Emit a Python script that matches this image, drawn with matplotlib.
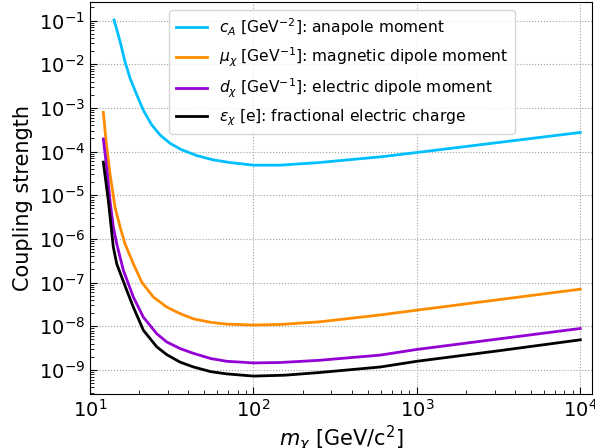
import numpy as np
import matplotlib
matplotlib.use('Agg')
from matplotlib import pyplot as plt

# dark matter mass in GeV/c^2 and coupling limits
mass_anapole = [14.03, 15.28, 16.37, 17.58, 19.32, 21.18, 23.88, 26.85, 30.9, 36.4, 44.98, 56.9, 71.9,
                100, 145.6, 251, 597, 1000, 3162, 10000]
c_anapole = [0.1035, 0.0331, 0.01148, 4.79e-3, 2.0e-3, 8.91e-4, 4.07e-4, 2.40e-4, 1.55e-4, 1.10e-4,
             8.13e-5, 6.46e-5, 5.62e-5, 4.90e-5, 4.90e-5, 5.62e-5, 7.59e-5, 9.55e-5, 1.62e-4, 2.75e-4]

mass_mdm = [12.06, 12.53, 13.25, 14.22, 15.28, 16.37, 18.41, 20.75, 24.4, 29.5, 35.6, 42.95, 55, 68.7,
            100, 145, 251, 597, 1000, 3162, 10000]
mu_chi = [7.94e-4, 1.78e-4, 3.09e-5, 5.37e-6, 1.86e-6, 7.76e-7, 2.69e-7, 1.02e-7, 4.68e-8, 2.75e-8,
          1.95e-8, 1.48e-8, 1.23e-8, 1.12e-8, 1.07e-8, 1.10e-8, 1.26e-8, 1.82e-8, 2.34e-8, 4.07e-8, 7.08e-8]

mass_edm = [12.06, 12.65, 13.25, 13.89, 14.57, 16.0, 18.41, 21.2, 25.6, 29.5, 35.6, 42.95, 55, 68.7,
            100, 145, 251, 597, 1000, 3162, 10000]
d_chi = [1.95e-4, 4.37e-5, 7.59e-6, 1.86e-6, 7.76e-7, 1.91e-7, 4.68e-8, 1.62e-8, 6.76e-9, 4.37e-9, 3.09e-9,
         2.40e-9, 1.82e-9, 1.58e-9, 1.45e-9, 1.48e-9, 1.66e-9, 2.19e-9, 2.95e-9, 5.13e-9, 8.91e-9]

mass_charge = [12.06, 12.94, 13.89, 14.57, 16.79, 18.41, 21.2, 25.6, 29.5, 35.6, 42.95, 55, 68.7,
               100, 156, 251, 597, 1000, 3162, 10000]
eps_chi = [5.75e-5, 7.59e-6, 6.46e-7, 2.69e-7, 6.61e-8, 2.75e-8, 8.13e-9, 3.39e-9, 2.24e-9, 1.51e-9, 1.17e-9,
           9.12e-10, 8.13e-10, 7.24e-10, 7.59e-10, 8.71e-10, 1.17e-9, 1.58e-9, 2.75e-9, 4.90e-9]

labels = [r'$c_A$ [GeV$^{-2}$]: anapole moment',
          r'$\mu_\chi$ [GeV$^{-1}$]: magnetic dipole moment',
          r'$d_\chi$ [GeV$^{-1}$]: electric dipole moment',
          r'$\epsilon_\chi$ [e]: fractional electric charge']
colors = ['#00bfff', '#ff8c00', '#9400d3', 'black']

fig = plt.figure(figsize=(5.95, 4.48), dpi=100)
ax = fig.add_axes([0.1513, 0.1212, 0.8437, 0.8743])

ax.plot(mass_anapole, c_anapole, color=colors[0], lw=2, label=labels[0])
ax.plot(mass_mdm, mu_chi, color=colors[1], lw=2, label=labels[1])
ax.plot(mass_edm, d_chi, color=colors[2], lw=2, label=labels[2])
ax.plot(mass_charge, eps_chi, color=colors[3], lw=2, label=labels[3])

ax.set_xscale('log')
ax.set_yscale('log')
ax.set_xlim(10, 1.18e4)
ax.set_ylim(2.86e-10, 0.267)
ax.set_yticks([10.0**k for k in range(-9, 0)])

ax.grid(True, which='major', ls=':', color='#a0a0a0', lw=0.8)
ax.tick_params(which='both', direction='in', labelsize=14)
ax.tick_params(which='major', length=5)
ax.tick_params(which='minor', length=3)

ax.set_xlabel(r'$m_\chi$ [GeV/c$^2$]', fontsize=15, labelpad=2)
ax.set_ylabel('Coupling strength', fontsize=15)
ax.legend(loc='upper center', fontsize=11.2, bbox_to_anchor=(0.502, 1.0))

fig.savefig('out.png', dpi=100)
